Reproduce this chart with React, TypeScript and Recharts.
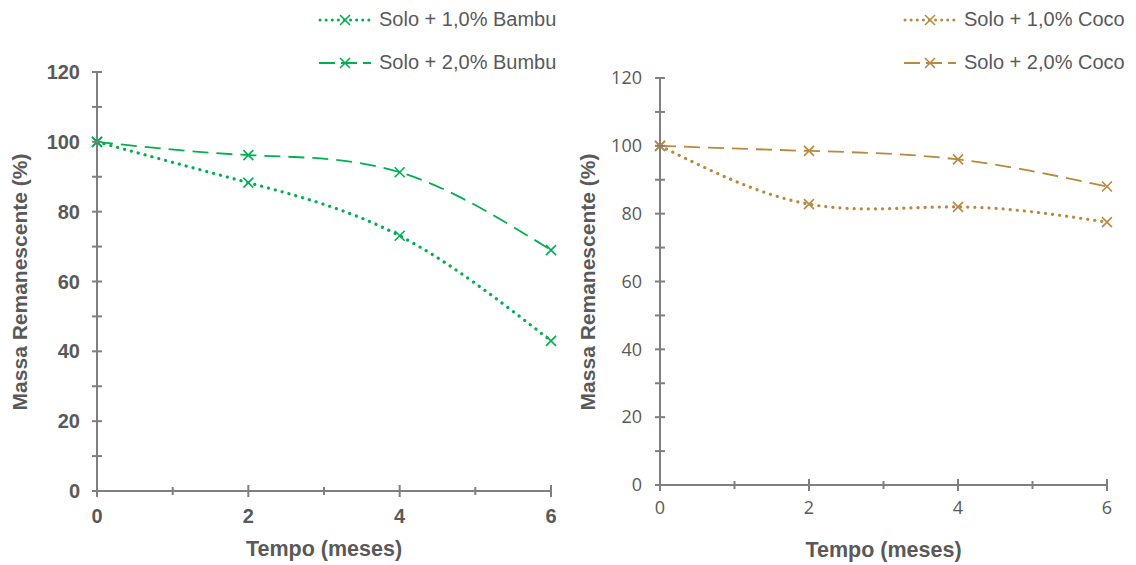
import { LineChart, Line, XAxis, YAxis } from "recharts";

const meses = [0, 2, 4, 6];
const bambu1 = [100, 88.3, 73.1, 43];
const bambu2 = [100, 96.2, 91.3, 69];
const coco1 = [100, 82.8, 82, 77.5];
const coco2 = [100, 98.5, 96, 88];

const xTicks = [0, 1, 2, 3, 4, 5, 6];
const yTicks = [0, 10, 20, 30, 40, 50, 60, 70, 80, 90, 100, 110, 120];

const GREEN = "#00B050";
const BROWN = "#B8893E";
const AXIS = "#7F7F7F";
const TEXT = "#595959";
const ARIAL = "Liberation Sans, Arial, sans-serif";

const bambuData = meses.map((m, i) => ({ mes: m, s1: bambu1[i], s2: bambu2[i] }));
const cocoData = meses.map((m, i) => ({ mes: m, s1: coco1[i], s2: coco2[i] }));

function XMark({ cx, cy, color }: any) {
  if (cx == null || cy == null) return null;
  const r = 5;
  return (
    <g>
      <line x1={cx - r} y1={cy - r} x2={cx + r} y2={cy + r} stroke={color} strokeWidth={1.6} />
      <line x1={cx - r} y1={cy + r} x2={cx + r} y2={cy - r} stroke={color} strokeWidth={1.6} />
    </g>
  );
}

function makeXTick(bold: boolean, font: string, size: number, dy: number) {
  return (props: any) => {
    const { x, y, payload } = props;
    const major = payload.value % 2 === 0;
    const len = major ? 6 : 4;
    return (
      <g>
        <line x1={x} x2={x} y1={y - len} y2={y + len} stroke={AXIS} strokeWidth={2} />
        {major && (
          <text x={x} y={y + dy} textAnchor="middle" fill={TEXT} fontFamily={font} fontSize={size} fontWeight={bold ? 700 : 400}>
            {payload.value}
          </text>
        )}
      </g>
    );
  };
}

function makeYTick(bold: boolean, font: string, size: number, dx: number) {
  return (props: any) => {
    const { x, y, payload } = props;
    const major = payload.value % 20 === 0;
    return (
      <g>
        <line x1={x - 5} x2={x + 5} y1={y} y2={y} stroke={AXIS} strokeWidth={2} />
        {major && (
          <text x={x - dx} y={y} dy="0.35em" textAnchor="end" fill={TEXT} fontFamily={font} fontSize={size} fontWeight={bold ? 700 : 400}>
            {payload.value}
          </text>
        )}
      </g>
    );
  };
}

function LegendRow({ color, dotted, label }: { color: string; dotted: boolean; label: string }) {
  return (
    <div style={{ display: "flex", alignItems: "center", height: 43 }}>
      <svg width={56} height={16} style={{ marginRight: 6 }}>
        {dotted ? (
          <line x1={3} x2={53} y1={8} y2={8} stroke={color} strokeWidth={3} strokeDasharray="0.1 6" strokeLinecap="round" />
        ) : (
          <line x1={2} x2={54} y1={8} y2={8} stroke={color} strokeWidth={2} strokeDasharray="16 6 0 0" />
        )}
        <XMark cx={28} cy={8} color={color} />
      </svg>
      <span style={{ fontFamily: ARIAL, fontSize: 20, color: TEXT, whiteSpace: "nowrap" }}>{label}</span>
    </div>
  );
}

function Panel({ data, color, s1Label, s2Label, bold, tickFont, tickSize, plotLeft, plotTop, plotBottom, width, legendLeft, yLabelX, xLabelY, xTickDy, yTickDx }: any) {
  const plotRight = 29;
  return (
    <div style={{ position: "relative", width, height: 565 }}>
      <LineChart width={width} height={565} data={data} margin={{ top: plotTop, right: plotRight, bottom: plotBottom - 40, left: 0 }}>
        <XAxis
          dataKey="mes"
          type="number"
          domain={[0, 6]}
          ticks={xTicks}
          interval={0}
          height={40}
          tickSize={0}
          tickMargin={0}
          tickLine={false}
          axisLine={{ stroke: AXIS, strokeWidth: 2 }}
          tick={makeXTick(bold, tickFont, tickSize, xTickDy)}
        />
        <YAxis
          type="number"
          domain={[0, 120]}
          ticks={yTicks}
          interval={0}
          width={plotLeft}
          tickSize={0}
          tickMargin={0}
          tickLine={false}
          axisLine={{ stroke: AXIS, strokeWidth: 2 }}
          tick={makeYTick(bold, tickFont, tickSize, yTickDx)}
        />
        <Line
          dataKey="s1"
          type="natural"
          stroke={color}
          strokeWidth={3.2}
          strokeDasharray="0.1 7"
          strokeLinecap="round"
          dot={(p: any) => <XMark key={`a${p.index}`} cx={p.cx} cy={p.cy} color={color} />}
          isAnimationActive={false}
        />
        <Line
          dataKey="s2"
          type="natural"
          stroke={color}
          strokeWidth={1.8}
          strokeDasharray="16 8"
          dot={(p: any) => <XMark key={`b${p.index}`} cx={p.cx} cy={p.cy} color={color} />}
          isAnimationActive={false}
        />
      </LineChart>
      <div style={{ position: "absolute", left: legendLeft, top: -2 }}>
        <LegendRow color={color} dotted label={s1Label} />
        <LegendRow color={color} dotted={false} label={s2Label} />
      </div>
      <div
        style={{
          position: "absolute",
          left: yLabelX,
          top: 282,
          transform: "translate(-50%, -50%) rotate(-90deg)",
          fontFamily: ARIAL,
          fontWeight: 700,
          fontSize: 21,
          color: TEXT,
          whiteSpace: "nowrap",
        }}
      >
        Massa Remanescente (%)
      </div>
      <div
        style={{
          position: "absolute",
          left: plotLeft + (width - plotLeft - plotRight) / 2,
          top: xLabelY,
          transform: "translate(-50%, -50%)",
          fontFamily: ARIAL,
          fontWeight: 700,
          fontSize: 21.5,
          color: TEXT,
          whiteSpace: "nowrap",
        }}
      >
        Tempo (meses)
      </div>
    </div>
  );
}

export default function App() {
  return (
    <div style={{ position: "absolute", left: 0, top: 0, width: 1136, height: 565, background: "#fff", display: "flex" }}>
      <Panel
        data={bambuData}
        color={GREEN}
        s1Label="Solo + 1,0% Bambu"
        s2Label="Solo + 2,0% Bumbu"
        bold
        tickFont={ARIAL}
        tickSize={20}
        plotLeft={97}
        plotTop={72}
        plotBottom={74}
        width={580}
        legendLeft={317}
        yLabelX={20}
        xLabelY={549}
        xTickDy={32}
        yTickDx={17}
      />
      <Panel
        data={cocoData}
        color={BROWN}
        s1Label="Solo + 1,0% Coco"
        s2Label="Solo + 2,0% Coco"
        bold={false}
        tickFont="Open Sans, Noto Sans, sans-serif"
        tickSize={18}
        plotLeft={80}
        plotTop={78}
        plotBottom={80}
        width={556}
        legendLeft={322}
        yLabelX={8}
        xLabelY={550}
        xTickDy={29}
        yTickDx={18}
      />
    </div>
  );
}
